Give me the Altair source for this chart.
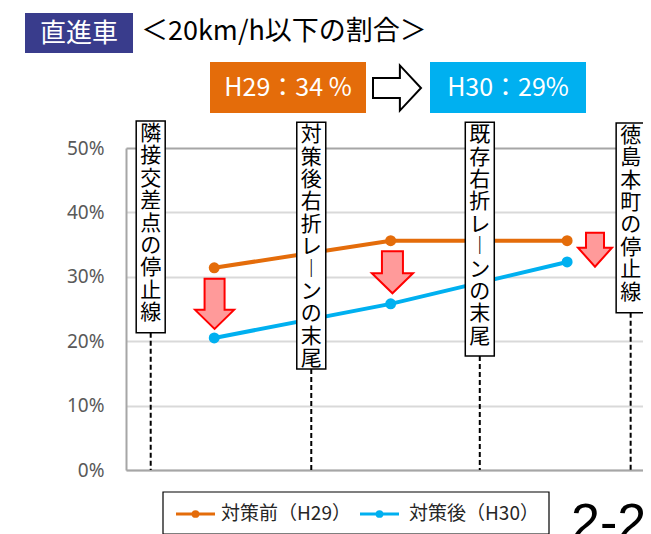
import altair as alt
import pandas as pd

# ---------------- data ----------------
segment_mid = [0.5, 1.5, 2.5]                 # midpoints of the three road sections
before_h29 = [0.314, 0.356, 0.356]            # 対策前（H29）
after_h30 = [0.205, 0.258, 0.323]             # 対策後（H30）
series_names = ["対策前（H29）", "対策後（H30）"]
series_colors = ["#E46C0A", "#00B0F0"]

landmark_names = ["隣接交差点の停止線", "対策後右折レーンの末尾", "既存右折レーンの末尾", "徳島本町の停止線"]
landmark_pos = [0.14, 1.05, 2.005, 2.86]
landmark_top = [0.542, 0.540, 0.540, 0.539]
landmark_bottom = [0.213, 0.157, 0.177, 0.244]

arrow_x = [0.502, 1.51, 2.658]
arrow_y = [0.258, 0.307, 0.342]

y_ticks = [0, 0.1, 0.2, 0.3, 0.4, 0.5]
title_tag = "直進車"
title_text = "＜20km/h以下の割合＞"
badge_before = "H29：34 %"
badge_after = "H30：29%"
page_no = "2-2"

# ---------------- layout / styles ----------------
CJK = "Noto Sans CJK JP"
PX_PER_X = 176.45
VIEW_W, VIEW_H = 517, 322
X_MAX = VIEW_W / PX_PER_X

xs = alt.Scale(domain=[0, X_MAX], nice=False, zero=False)
ys = alt.Scale(domain=[0, 0.5], nice=False)
x_axis = alt.Axis(labels=False, ticks=False, title=None, grid=False,
                  domainColor="#A6A6A6", domainWidth=2)
y_axis = alt.Axis(values=y_ticks, format=".0%", title=None, ticks=False,
                  labelPadding=22, labelFontSize=19, labelColor="#595959",
                  labelFont="Noto Sans", domainColor="#A6A6A6", domainWidth=2,
                  gridColor={"condition": {"test": "datum.value >= 0.5", "value": "#A6A6A6"},
                             "value": "#D9D9D9"},
                  gridWidth=2)

series_df = pd.DataFrame({
    "x": segment_mid * 2,
    "v": before_h29 + after_h30,
    "series": [series_names[0]] * 3 + [series_names[1]] * 3,
})
color = alt.Color("series:N", scale=alt.Scale(domain=series_names, range=series_colors), legend=None)

lines = alt.Chart(series_df).mark_line(strokeWidth=4).encode(
    x=alt.X("x:Q", scale=xs, axis=x_axis),
    y=alt.Y("v:Q", scale=ys, axis=y_axis),
    color=color, detail="series:N")
points = alt.Chart(series_df).mark_point(filled=True, size=120, opacity=1).encode(
    x=alt.X("x:Q", scale=xs, axis=x_axis),
    y=alt.Y("v:Q", scale=ys, axis=y_axis),
    color=color)

lm_df = pd.DataFrame({
    "name": landmark_names,
    "pos": landmark_pos,
    "top": landmark_top,
    "bottom": landmark_bottom,
})
lm_df["vtext"] = lm_df["name"].apply(lambda s: "\n".join(s.replace("ー", "︱")))
half = 14.5 / PX_PER_X
lm_df["lo"] = lm_df["pos"] - half
lm_df["hi"] = lm_df["pos"] + half
lm_df["zero"] = 0.0

dashes = alt.Chart(lm_df).mark_rule(color="black", strokeWidth=2, strokeDash=[5, 3]).encode(
    x=alt.X("pos:Q", scale=xs, axis=x_axis),
    y=alt.Y("bottom:Q", scale=ys, axis=y_axis),
    y2="zero:Q")
boxes = alt.Chart(lm_df).mark_rect(fill="white", stroke="black", strokeWidth=1.5).encode(
    x=alt.X("lo:Q", scale=xs, axis=x_axis), x2="hi:Q",
    y=alt.Y("top:Q", scale=ys, axis=y_axis), y2="bottom:Q")
box_text = alt.Chart(lm_df).mark_text(
    font=CJK, fontSize=21, lineHeight=22.4, lineBreak="\n", baseline="top",
    align="center", dy=2, color="black").encode(
    x=alt.X("pos:Q", scale=xs, axis=x_axis),
    y=alt.Y("top:Q", scale=ys, axis=y_axis),
    text="vtext:N")

arrow_paths = [
    "M-0.4,-1L0.4,-1L0.4,0.24L0.78,0.24L0,1L-0.78,0.24L-0.4,0.24Z",
    "M-0.5,-1L0.5,-1L0.5,0.05L0.98,0.05L0,1L-0.98,0.05L-0.5,0.05Z",
    "M-0.53,-1L0.53,-1L0.53,-0.12L1,-0.12L0,1L-1,-0.12L-0.53,-0.12Z",
]
arrow_sizes = [2500, 1764, 1156]
arr_df = pd.DataFrame({"x": arrow_x, "y": arrow_y, "path": arrow_paths, "size": arrow_sizes})
red_arrows = alt.Chart(arr_df).mark_point(
    filled=True, fill="#FF9A9A", stroke="#FF0000", strokeWidth=2, opacity=1).encode(
    x=alt.X("x:Q", scale=xs, axis=x_axis),
    y=alt.Y("y:Q", scale=ys, axis=y_axis),
    shape=alt.Shape("path:N", scale=None),
    size=alt.Size("size:Q", scale=None))

# ---------------- header annotations (pixel positions relative to plot origin) ----------------
tag_rect = alt.Chart().mark_rect(fill="#393C8C").encode(
    x=alt.value(-101), x2=alt.value(7), y=alt.value(-135), y2=alt.value(-95))
tag_text = alt.Chart().mark_text(text=title_tag, font=CJK, fontSize=26, color="white",
                                 align="center", baseline="middle").encode(
    x=alt.value(-47), y=alt.value(-114))
head_text = alt.Chart().mark_text(text=title_text, font=CJK, fontSize=27, color="black",
                                  align="left", baseline="middle").encode(
    x=alt.value(15), y=alt.value(-116))

b1_rect = alt.Chart().mark_rect(fill="#E46C0A").encode(
    x=alt.value(84), x2=alt.value(240), y=alt.value(-86), y2=alt.value(-35))
b1_text = alt.Chart().mark_text(text=badge_before, font=CJK, fontSize=25, color="white",
                                align="center", baseline="middle").encode(
    x=alt.value(162), y=alt.value(-60))
b2_rect = alt.Chart().mark_rect(fill="#00B0F0").encode(
    x=alt.value(304), x2=alt.value(460), y=alt.value(-86), y2=alt.value(-35))
b2_text = alt.Chart().mark_text(text=badge_after, font=CJK, fontSize=25, color="white",
                                align="center", baseline="middle").encode(
    x=alt.value(382), y=alt.value(-60))
right_arrow = alt.Chart().mark_point(
    shape="M-1,-0.42L0.12,-0.42L0.12,-0.94L1,0L0.12,0.94L0.12,0.42L-1,0.42Z",
    size=2304, filled=True, fill="white", stroke="black", strokeWidth=2, opacity=1).encode(
    x=alt.value(271), y=alt.value(-60))

# ---------------- legend (manual) ----------------
leg_box = alt.Chart().mark_rect(fill="white", stroke="black", strokeWidth=1.2).encode(
    x=alt.value(37), x2=alt.value(423), y=alt.value(344), y2=alt.value(386))
leg_df = pd.DataFrame({
    "series": series_names,
    "l0": [50, 234], "l1": [89, 273], "lm": [69.5, 253.5], "tx": [95, 283],
})
leg_lines = alt.Chart(leg_df).mark_rule(strokeWidth=3).encode(
    x=alt.X("l0:Q", scale=None, axis=None), x2="l1:Q", y=alt.value(366), color=color)
leg_pts = alt.Chart(leg_df).mark_point(filled=True, size=60, opacity=1).encode(
    x=alt.X("lm:Q", scale=None, axis=None), y=alt.value(366), color=color)
leg_txt = alt.Chart(leg_df).mark_text(font=CJK, fontSize=19, align="left",
                                      baseline="middle", color="#262626").encode(
    x=alt.X("tx:Q", scale=None, axis=None), y=alt.value(366), text="series:N")

page_txt = alt.Chart().mark_text(text=page_no, font="Liberation Sans", fontSize=52,
                                 color="black", align="left", baseline="alphabetic").encode(
    x=alt.value(445), y=alt.value(392))

chart = alt.layer(
    lines, points, dashes, boxes, box_text, red_arrows,
    tag_rect, tag_text, head_text, b1_rect, b1_text, b2_rect, b2_text, right_arrow,
    leg_box, leg_lines, leg_pts, leg_txt, page_txt,
).properties(
    width=VIEW_W, height=VIEW_H,
    autosize=alt.AutoSizeParams(type="none"),
    padding={"left": 118, "top": 140, "right": 0, "bottom": 64},
).configure_view(stroke=None)

chart.save("out.html", embed_options={"renderer": "svg", "actions": False})
